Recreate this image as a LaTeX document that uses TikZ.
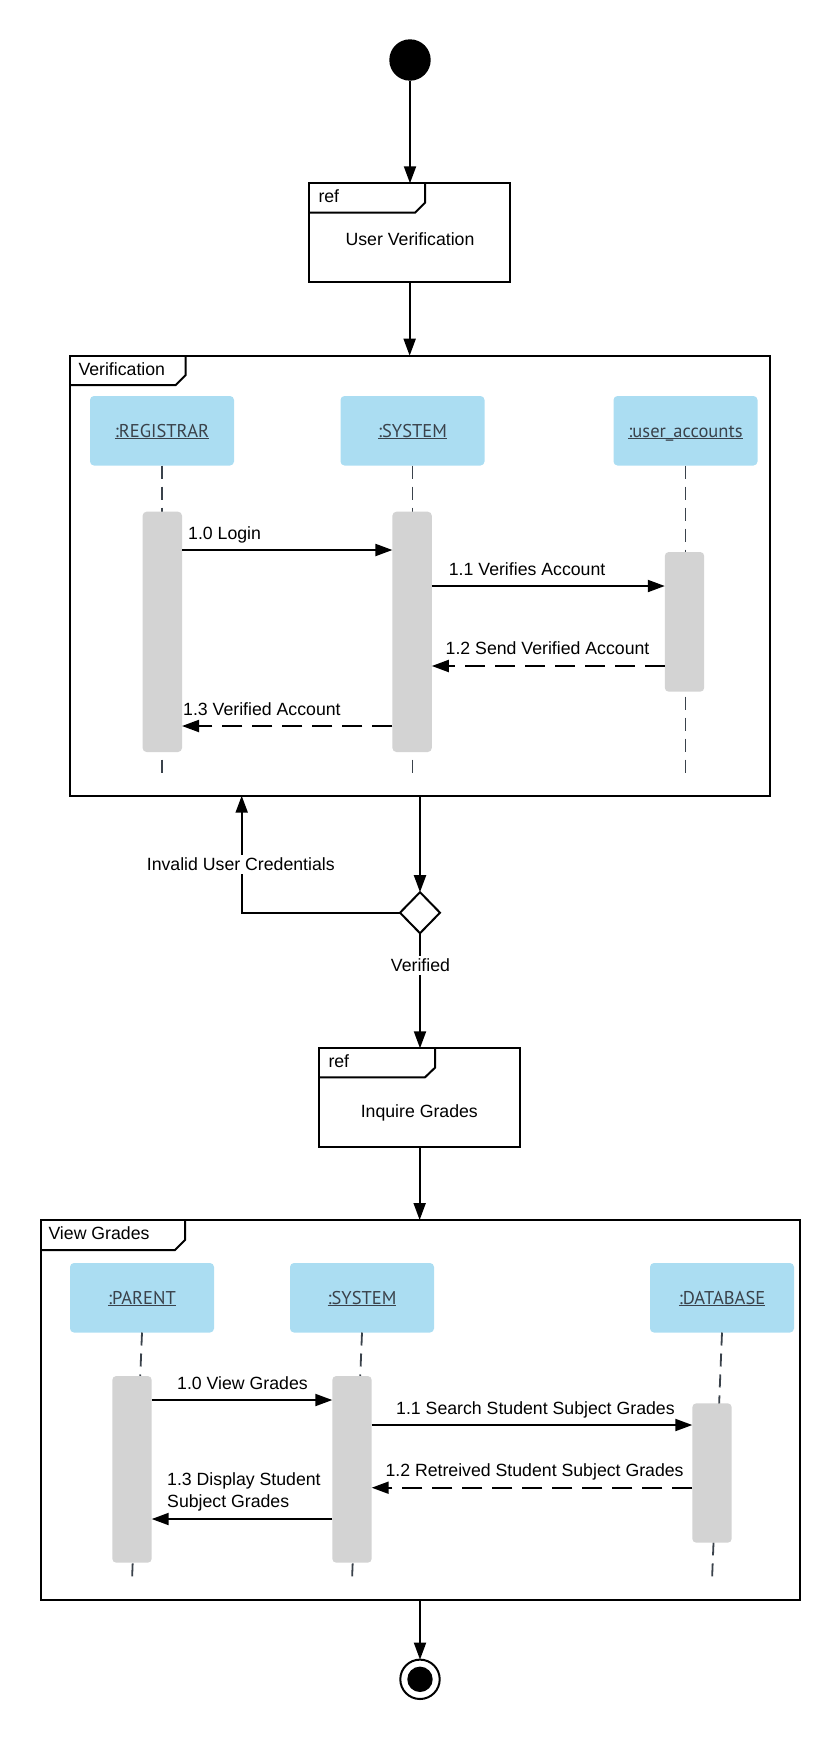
\documentclass[tikz,border=0pt]{standalone}
\usepackage{fontspec}
\setmainfont{Liberation Sans}
\newfontfamily\headfont{PT Sans}
\usetikzlibrary{arrows.meta,shapes.geometric}

\definecolor{headblue}{RGB}{171,221,242}
\definecolor{bargray}{RGB}{211,211,211}
\definecolor{lifeink}{HTML}{3A424B}

% underlined lifeline name
\newcommand\ulname[1]{\setbox0\hbox{#1}\rlap{\rule[-1.5pt]{\wd0}{1pt}}\box0}

\tikzset{
  frame/.style={draw, line width=2pt, inner sep=0, outer sep=0},
  tabline/.style={line width=2pt, line join=miter},
  head/.style={fill=headblue, rounded corners=4pt, minimum width=144pt,
    minimum height=69.5pt, inner sep=0, outer sep=0, text height=14.5pt,
    text depth=1.5pt, text=lifeink, font=\headfont\fontsize{18.5}{22}\selectfont},
  actbar/.style={fill=bargray, rounded corners=4pt, minimum width=39.4pt,
    inner sep=0, outer sep=0},
  lifeline/.style={lifeink, line width=1.8pt, dash pattern=on 13pt off 8pt},
  msg/.style={line width=2pt, -{Triangle[length=17pt,width=12pt]}},
  reply/.style={msg, dash pattern=on 20pt off 10pt},
  lbl/.style={inner sep=0, anchor=base west},
  guard/.style={fill=white, inner xsep=2pt, inner ysep=3pt},
}

\begin{document}
\begin{tikzpicture}[x=1pt, y=-1pt, font=\fontsize{17.7}{21.7}\selectfont]
\useasboundingbox (0,0) rectangle (840,1740);

% ---------- initial node and first reference ----------
\node[circle, fill=black, minimum size=41.4pt, inner sep=0, outer sep=0] (start) at (410,60) {};

\node[frame, minimum width=200.7pt, minimum height=98.4pt] (ref1) at (409.65,232.5) {};
\draw[tabline] (ref1.north west) ++(0,29.4) -- ++(105.7,0) -- ++(10,-10) -- ++(0,-19.4);
\node[lbl] (ref1tag) at (318.3,202.7) {ref};
\node[inner sep=0, anchor=base] (ref1txt) at (410,245.7) {User Verification};

% ---------- Verification frame ----------
\node[frame, minimum width=700pt, minimum height=440pt] (verif) at (420,575.7) {};
\draw[tabline] (verif.north west) ++(0,29.3) -- ++(105.7,0) -- ++(10,-10) -- ++(0,-19.3);
\node[lbl] (veriftag) at (78.3,375) {Verification};

\coordinate (vend) at (0,775.7);
\node[head] (h1) at (162,430.75) {\ulname{:REGISTRAR}};
\node[head] (h2) at (412.5,430.75) {\ulname{:SYSTEM}};
\node[head] (h3) at (685.5,430.75) {\ulname{:user\_accounts}};

\draw[lifeline] (h1.south) -- (h1.south |- vend);
\draw[lifeline] (h2.south) -- (h2.south |- vend);
\draw[lifeline] (h3.south) -- (h3.south |- vend);

\node[actbar, minimum height=240.3pt] (b1) at (162.3,631.85) {};
\node[actbar, minimum height=240.3pt] (b2) at (412.1,631.85) {};
\node[actbar, minimum height=139.7pt] (b3) at (684.5,621.85) {};

\coordinate (m1) at (0,550);
\coordinate (m2) at (0,586);
\coordinate (m3) at (0,666);
\coordinate (m4) at (0,726);
\draw[msg]   (b1.east |- m1) -- (b2.west |- m1);
\draw[msg]   (b2.east |- m2) -- (b3.west |- m2);
\draw[reply] (b3.west |- m3) -- (b2.east |- m3);
\draw[reply] (b2.west |- m4) -- (b1.east |- m4);
\node[lbl] (l1) at (188,539.3) {1.0 Login};
\node[lbl] (l2) at (448.7,575.3) {1.1 Verifies Account};
\node[lbl] (l3) at (445.5,654.3) {1.2 Send Verified Account};
\node[lbl] (l4) at (183,715.3) {1.3 Verified Account};

% ---------- decision ----------
\node[diamond, draw, line width=2pt, fill=white, minimum width=40pt,
  minimum height=41pt, inner sep=0, outer sep=0] (dec) at (420,912.7) {};
\coordinate (inv) at (241.7,0);
\draw[msg] (dec.north |- verif.south) -- (dec.north);
\draw[msg] (dec.west) -| (inv |- verif.south);
\node[guard] (invlbl) at (240.8,864.3) {Invalid User Credentials};

% ---------- second reference ----------
\node[frame, minimum width=200.7pt, minimum height=99pt] (ref2) at (419.65,1097.8) {};
\draw[tabline] (ref2.north west) ++(0,29) -- ++(105.7,0) -- ++(10,-9.6) -- ++(0,-19.4);
\node[lbl] (ref2tag) at (328.3,1067.3) {ref};
\node[inner sep=0, anchor=base] (ref2txt) at (419.3,1117.3) {Inquire Grades};

\draw[msg] (dec.south) -- (dec.south |- ref2.north);
\node[guard] (verlbl) at (420.5,965.3) {Verified};

% ---------- View Grades frame ----------
\node[frame, minimum width=759pt, minimum height=379.5pt] (vg) at (420.5,1409.75) {};
\draw[tabline] (vg.north west) ++(0,30) -- ++(134,0) -- ++(10,-10) -- ++(0,-20);
\node[lbl] (vgtag) at (48.3,1239) {View Grades};

\draw[msg] (start.south) -- (start.south |- ref1.north);
\draw[msg] (ref1.south) -- (ref1.south |- verif.north);
\draw[msg] (ref2.south) -- (ref2.south |- vg.north);

\node[head] (h4) at (142,1297.75) {\ulname{:PARENT}};
\node[head] (h5) at (362,1297.75) {\ulname{:SYSTEM}};
\node[head] (h6) at (722,1297.75) {\ulname{:DATABASE}};

% lifelines end below the bar centres, so they lean slightly
\coordinate (g4) at (132,1580);
\coordinate (g5) at (352,1580);
\coordinate (g6) at (712,1580);
\draw[lifeline] (h4.south) -- (g4);
\draw[lifeline] (h5.south) -- (g5);
\draw[lifeline] (h6.south) -- (g6);

\node[actbar, minimum height=186.7pt] (b4) at (132,1469.35) {};
\node[actbar, minimum height=186.7pt] (b5) at (352,1469.35) {};
\node[actbar, minimum height=139.4pt] (b6) at (712,1473) {};

\coordinate (m5) at (0,1400);
\coordinate (m6) at (0,1425);
\coordinate (m7) at (0,1487.7);
\coordinate (m8) at (0,1519);
\draw[msg]   (b4.east |- m5) -- (b5.west |- m5);
\draw[msg]   (b5.east |- m6) -- (b6.west |- m6);
\draw[reply] (b6.west |- m7) -- (b5.east |- m7);
\draw[msg]   (b5.west |- m8) -- (b4.east |- m8);
\node[lbl] (l5) at (177,1389.3) {1.0 View Grades};
\node[lbl] (l6) at (396,1414.3) {1.1 Search Student Subject Grades};
\node[lbl] (l7) at (385.3,1476.5) {1.2 Retreived Student Subject Grades};
\node[lbl, align=left] (l8) at (167,1507.3) {1.3 Display Student\\Subject Grades};

% ---------- final node ----------
\node[circle, draw, line width=2pt, minimum size=39.4pt, inner sep=0, outer sep=0] (fin) at (420,1679.3) {};
\node[circle, fill=black, minimum size=25.4pt, inner sep=0] (findot) at (fin.center) {};
\draw[msg] (fin.north |- vg.south) -- (fin.north);
\end{tikzpicture}
\end{document}
